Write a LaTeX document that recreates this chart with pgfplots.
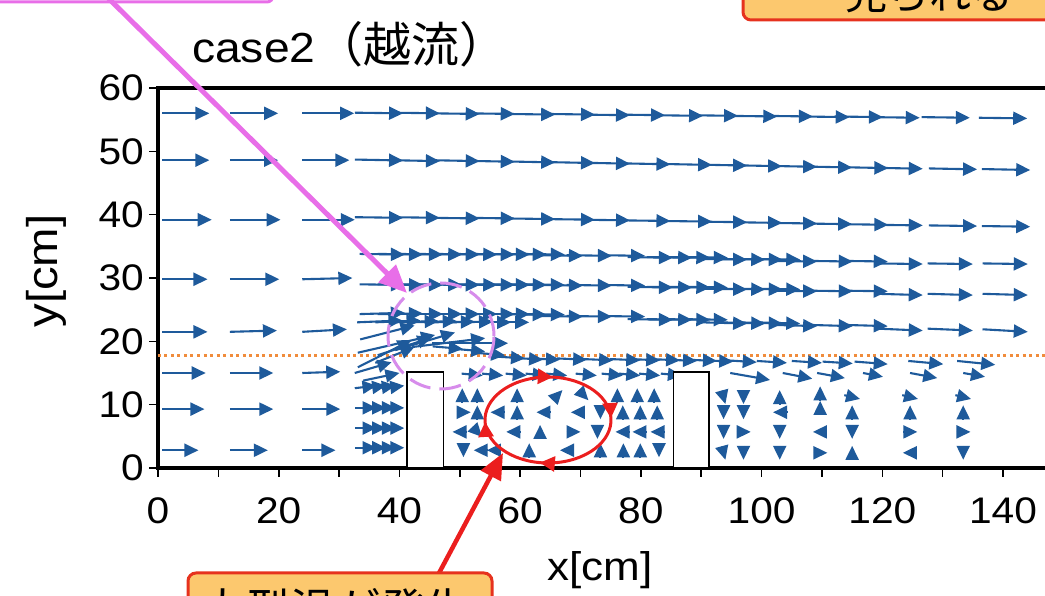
\documentclass[border=0pt]{standalone}
\usepackage{pgfplots}
\pgfplotsset{compat=1.18}
\usepackage{pgfplotstable}
\usepackage{fontspec}
\setmainfont[FakeStretch=1.1]{Liberation Sans}
\newfontfamily\cjk{Noto Sans CJK JP}
\usetikzlibrary{arrows.meta,decorations.markings}
\definecolor{vblue}{RGB}{30,90,155}
\definecolor{dotorange}{RGB}{240,140,60}
\definecolor{pinkc}{RGB}{232,110,232}
\definecolor{pinkd}{RGB}{215,140,235}
\definecolor{redc}{RGB}{235,30,30}
\definecolor{boxfill}{RGB}{252,200,110}
\definecolor{boxline}{RGB}{230,50,30}

% coarse upstream grid
\pgfplotstableread{
x y u v
0.7 56.0 7.8 0
11.9 56.0 8.0 0
23.9 56.0 8.6 0
0.7 48.6 7.8 0
11.9 48.6 8.0 0
23.9 48.6 7.8 0
0.7 39.2 8.2 0
11.9 39.2 8.4 0
23.9 39.2 8.7 0
0.7 29.8 7.5 0
11.9 29.8 8.2 0
23.9 29.8 8.3 0.2
0.7 21.5 7.5 0
11.9 21.5 7.8 0.2
23.9 21.5 7.4 0.4
0.7 15.0 7.2 0
11.9 15.0 7.2 0
23.9 15.0 6.3 0.2
0.7 9.3 7.0 0
11.9 9.3 7.2 0
23.9 9.3 6.3 0
0.7 2.8 6.0 0
11.9 2.8 6.3 0
23.9 2.8 5.5 0
}\coarse

% upper rows R1-R3
\pgfplotstableread{
x y u v
32.6 56.1 8 -0.1
38.7 56.1 8 -0.1
45.3 56.0 8 -0.1
51.1 56.0 8 -0.1
57.8 55.9 8 -0.1
64.4 55.9 8 -0.1
70.2 55.8 8 -0.1
76.0 55.8 8 -0.1
82.3 55.7 8 -0.1
88.1 55.7 8 -0.1
94.6 55.6 8 -0.1
100.5 55.6 8 -0.1
106.6 55.5 8 -0.1
112.1 55.5 8 -0.1
118.2 55.4 8 -0.1
126.5 55.4 8 -0.1
136.0 55.3 8 -0.1
32.6 48.7 8 -0.15
38.7 48.6 8 -0.15
45.3 48.6 8 -0.15
51.1 48.5 8 -0.15
57.8 48.4 8 -0.15
64.4 48.3 8 -0.15
70.2 48.2 8 -0.15
76.9 48.1 8 -0.15
83.8 48.0 8 -0.15
89.6 47.9 8 -0.15
95.4 47.8 8 -0.15
101.2 47.7 8 -0.15
107.0 47.6 8 -0.15
113.0 47.5 8 -0.15
118.7 47.4 8 -0.15
127.7 47.3 8 -0.15
136.5 47.2 8 -0.15
32.6 39.6 8 -0.1
38.7 39.6 8 -0.1
45.3 39.5 8 -0.1
51.1 39.5 8 -0.1
57.8 39.4 8 -0.1
64.4 39.3 8 -0.1
70.2 39.2 8 -0.1
76.9 39.1 8 -0.1
83.8 39.0 8 -0.1
89.6 38.9 8 -0.1
95.4 38.8 8 -0.1
101.2 38.7 8 -0.1
107.0 38.6 8 -0.1
113.0 38.5 8 -0.1
118.7 38.4 8 -0.1
127.7 38.3 8 -0.1
136.5 38.2 8 -0.1
}\upper

% dense rows R4-R6
\pgfplotstableread{
x y u v
33.4 33.8 7.5 -0.1
36.4 33.8 7.5 -0.1
39.7 33.8 7.5 -0.1
42.9 33.8 7.5 -0.1
45.8 33.8 7.5 -0.1
48.7 33.8 7.5 -0.1
51.6 33.8 7.5 -0.1
54.1 33.8 7.5 -0.1
56.9 33.8 7.5 -0.1
59.9 33.8 7.5 -0.1
62.9 33.6 7.5 -0.1
67.7 33.6 7.5 -0.1
73.2 33.6 7.5 -0.1
77.8 33.3 7.5 -0.1
81.0 33.3 7.5 -0.1
84.0 33.3 7.5 -0.1
86.9 33.3 7.5 -0.1
90.1 33.0 7.5 -0.1
93.1 33.0 7.5 -0.1
96.0 33.0 7.5 -0.1
98.9 33.0 7.5 -0.1
101.7 32.7 7.5 -0.1
107.6 32.7 7.5 -0.1
113.4 32.7 7.5 -0.1
119.2 32.3 7.5 -0.1
127.5 32.3 7.5 -0.1
136.6 32.3 7.5 -0.1
33.4 29.0 7.5 -0.1
36.4 29.0 7.5 -0.1
39.7 29.0 7.5 -0.1
42.9 29.0 7.5 -0.1
45.8 29.0 7.5 -0.1
48.7 29.0 7.5 -0.1
51.6 29.0 7.5 -0.1
54.1 29.0 7.5 -0.1
56.9 29.0 7.5 -0.1
59.9 29.0 7.5 -0.1
62.9 28.9 7.5 -0.1
67.7 28.9 7.5 -0.1
73.2 28.9 7.5 -0.1
77.8 28.6 7.5 -0.1
81.0 28.6 7.5 -0.1
84.0 28.6 7.5 -0.1
86.9 28.6 7.5 -0.1
90.1 28.3 7.5 -0.1
93.1 28.3 7.5 -0.1
96.0 28.3 7.5 -0.1
98.9 28.3 7.5 -0.1
101.7 28.0 7.5 -0.1
107.6 28.0 7.5 -0.1
113.4 28.0 7.5 -0.1
119.2 27.5 7.5 -0.2
127.5 27.5 7.5 -0.2
136.6 27.5 7.5 -0.2
33.4 24.3 7.5 0.2
36.4 24.3 7.5 0.1
39.7 24.3 7.5 0
42.9 24.3 7.5 0
45.8 24.3 7.5 0
48.7 24.3 7.5 0
51.6 24.3 7.5 0
54.1 24.3 7.5 0
56.9 24.3 7.5 -0.1
59.9 24.3 7.5 -0.1
62.9 24.0 7.5 -0.1
67.7 24.0 7.5 -0.1
73.2 24.0 7.5 -0.1
77.8 23.5 7.5 -0.1
81.0 23.5 7.5 -0.1
84.0 23.5 7.5 -0.1
86.9 23.5 7.5 -0.1
90.1 23.0 7.5 -0.2
93.1 23.0 7.5 -0.2
96.0 23.0 7.5 -0.2
98.9 23.0 7.5 -0.2
101.7 22.6 7.5 -0.2
107.6 22.6 7.5 -0.2
113.4 22.6 7.5 -0.2
119.2 22.0 7.5 -0.3
127.5 22.0 7.5 -0.3
136.6 21.9 7.5 -0.4
33.0 23.0 7.5 0.3
36.0 23.0 7.5 0.3
39.0 23.0 7.5 0.2
42.0 23.0 7.5 0.2
45.0 23.0 7.5 0.1
48.0 23.0 7.5 0.1
51.0 23.0 7.5 0
54.0 23.0 7.5 0
}\dense

% fan of rising vectors over the first block
\pgfplotstableread{
x y u v
32.6 15.0 6.1 1.7
33.1 15.9 8.9 4.3
36.4 17.8 8.9 2.8
39.3 18.6 9.9 2.8
42.1 19.1 12.1 1.4
45.4 19.7 12.6 0
33.1 18.2 12.8 2.8
33.5 20.3 9.0 2.2
36.0 16.6 6.5 2.5
34.0 13.8 6.0 1.2
}\fan

% row just above the crest line and rows near block tops
\pgfplotstableread{
x y u v
45.5 19.2 5.0 -0.4
49.2 18.8 5.0 -0.4
52.5 18.2 5.0 -0.4
55.8 17.6 5.0 -0.3
58.8 17.4 5.0 -0.3
61.6 17.3 5.0 -0.2
66.1 17.3 5.0 -0.2
70.4 17.2 5.0 -0.2
74.9 17.2 5.0 -0.2
78.2 17.2 5.0 -0.2
81.5 17.2 5.0 -0.2
84.3 17.1 5.0 -0.2
87.6 17.1 5.0 -0.2
90.3 17.0 5.0 -0.2
94.2 17.0 5.0 -0.3
99.2 16.9 5.0 -0.3
105.0 16.9 5.0 -0.3
110.1 16.8 5.0 -0.3
115.4 16.8 5.5 -0.4
124.3 16.9 5.8 -0.5
132.4 16.9 6.3 -0.6
50.3 14.9 3.5 -0.3
53.7 14.9 3.5 -0.3
57.6 14.9 3.5 -0.3
60.9 14.9 3.5 -0.3
64.3 14.9 3.5 -0.3
69.2 14.9 3.5 -0.3
73.5 14.9 3.5 -0.3
76.4 14.9 3.5 -0.3
79.7 14.9 3.5 -0.3
83.3 14.9 3.5 -0.3
94.8 15.0 6.6 -1.1
103.5 15.0 4.9 -0.9
109.2 15.0 4.6 -0.8
116.8 15.0 3.3 -0.6
124.6 15.0 4.5 -0.8
133.4 15.0 3.6 -0.6
}\crest

% upstream of the first block
\pgfplotstableread{
x y u v
32.6 3.2 3.6 0
34.5 3.2 3.3 0
36.0 3.2 3.4 0
37.5 3.2 3.3 0
32.6 6.3 3.6 0
34.5 6.3 3.3 0
36.0 6.3 3.4 0
37.5 6.3 3.3 0
32.6 9.5 3.6 0
34.5 9.5 3.3 0
36.0 9.5 3.4 0
37.5 9.5 3.3 0
32.6 12.6 3.6 0.4
34.5 12.6 3.3 0.4
36.0 12.6 3.4 0.4
37.5 12.6 3.3 0.4
}\upstream

% vortex between the blocks and cells behind the second block
\pgfplotstableread{
x y u v
50.4 10.4 0 2.2
52.9 10.4 0 2.2
59.5 10.4 0 2.2
65.4 10.7 1.6 1.6
69.7 12.3 1.6 -1.6
76.1 10.4 0 2.2
79.4 10.4 0 2.2
82.2 10.4 0 2.2
49.5 8.8 2.3 0
52.9 7.7 0 2.2
57.4 8.8 -2.3 0
59.5 7.7 0 2.2
65.0 8.8 -2.3 0
70.7 8.8 -2.3 0
73.3 9.9 0 -2.2
77.0 7.7 0 2.2
79.9 7.7 0 2.2
82.7 7.7 0 2.2
51.1 5.7 -2.3 0
52.1 6.5 1.6 -1.6
60.0 5.7 -2.3 0
63.3 4.6 0 2.2
67.7 5.7 2.3 0
72.8 6.8 0 -2.2
78.1 5.7 -2.3 0
80.9 5.7 -2.3 0
83.9 5.7 -2.3 0
50.6 3.9 0 -2.2
54.6 2.8 -2.3 0
56.8 2.8 -2.3 0
61.5 1.7 0 2.2
68.9 2.8 -2.3 0
73.3 1.7 0 2.2
77.1 1.7 0 2.2
79.9 1.7 0 2.2
83.0 3.9 0 -2.2
93.4 12.2 0.6 -2.1
93.7 9.9 0 -2.2
93.7 6.8 0 -2.2
93.4 3.4 0.6 -2.1
97.0 12.3 0 -2.2
97.0 9.9 0 -2.2
95.9 5.7 2.3 0
97.0 3.5 0 -2.2
103.0 10.1 0 2.2
104.2 8.8 -2.3 0
103.0 6.8 0 -2.2
103.0 3.5 0 -2.2
109.7 10.7 0 2.2
109.7 8.4 0 2.2
110.8 5.7 -2.3 0
108.6 2.4 2.3 0
113.7 11.5 2.6 -0.6
115.0 7.7 0 2.2
115.0 6.8 0 -2.2
115.0 1.3 0 2.2
123.3 11.5 2.6 -0.6
124.6 7.7 0 2.2
123.5 5.7 2.3 0
125.7 2.4 -2.3 0
132.1 11.5 2.6 -0.6
133.4 7.7 0 2.2
132.3 5.7 2.3 0
133.4 3.5 0 -2.2
}\vortex

\pgfplotsset{vec/.style={quiver={u=\thisrow{u},v=\thisrow{v}},
  draw=vblue, fill=vblue, line width=2.1pt, -{Triangle[length=14pt,width=13pt]}}}

\begin{document}
\begin{tikzpicture}
\path[use as bounding box] (0pt,0pt) rectangle (1045pt,596pt);
\begin{scope}
\clip (0pt,0pt) rectangle (1045pt,596pt);
\begin{axis}[
  anchor=south west, at={(158pt,128pt)},
  scale only axis, width=905.4pt, height=380pt,
  xmin=0, xmax=150, ymin=0, ymax=60,
  xtick={0,20,...,140}, minor xtick={10,30,...,150},
  ytick={0,10,...,60},
  tick pos=left, tick align=outside,
  major tick length=9pt, minor tick length=9pt,
  tick style={black, line width=1.6pt},
  axis line style={line width=3.5pt},
  tick label style={font=\fontsize{37}{40}\selectfont},
  /pgf/number format/assume math mode=true,
  xticklabel style={inner sep=0pt, yshift=-20pt},
  yticklabel style={inner sep=0pt, xshift=-5pt},
]
\addplot[dotorange, line width=2.8pt, dash pattern=on 3pt off 3.5pt] coordinates {(0,17.8) (150,17.8)};
\addplot[vec] table[x=x,y=y] {\coarse};
\addplot[vec] table[x=x,y=y] {\upper};
\addplot[vec] table[x=x,y=y] {\dense};
\addplot[vec] table[x=x,y=y] {\fan};
\addplot[vec] table[x=x,y=y] {\crest};
\addplot[vec] table[x=x,y=y] {\upstream};
\addplot[vec] table[x=x,y=y] {\vortex};
\draw[black, line width=1.8pt, fill=white] (axis cs:41.3,0) rectangle (axis cs:47.3,15.2);
\draw[black, line width=1.8pt, fill=white] (axis cs:85.4,0) rectangle (axis cs:91.3,15.2);
\end{axis}

% title and axis labels
\node[anchor=base west, inner sep=0pt] at (192pt,533pt)
  {\fontsize{42}{48}\selectfont case2\cjk\fontsize{48}{52}\selectfont （越流）};
\node[rotate=90] at (46pt,325pt) {\fontsize{43}{48}\selectfont y[cm]};
\node at (600pt,26pt) {\fontsize{40}{46}\selectfont x[cm]};

% annotations
\draw[pinkd, line width=3pt, dash pattern=on 22pt off 9pt] (441pt,260pt) ellipse [x radius=53pt, y radius=53pt];
\draw[redc, line width=3pt, postaction={decorate}, decoration={markings,
   mark=at position 0.04 with {\arrow{Triangle[length=15pt,width=15pt]}},
   mark=at position 0.31 with {\arrow{Triangle[length=15pt,width=15pt]}},
   mark=at position 0.54 with {\arrow{Triangle[length=15pt,width=15pt]}},
   mark=at position 0.82 with {\arrow{Triangle[length=15pt,width=15pt]}}}]
   (548pt,176pt) ++(200:63pt and 43pt) arc[start angle=200, end angle=-160, x radius=63pt, y radius=43pt];
\draw[pinkc, line width=3pt, fill=white, rounded corners=6pt] (-20pt,594pt) rectangle (273pt,650pt);
\draw[pinkc, line width=5pt, -{Triangle[length=28pt,width=24pt]}] (100pt,606pt) -- (407pt,303pt);
\draw[redc, line width=4.5pt, -{Triangle[length=26pt,width=22pt]}] (438pt,21pt) -- (503pt,143pt);
\draw[boxline, line width=3pt, fill=boxfill, rounded corners=8pt] (188pt,23pt) rectangle (492pt,-60pt);
\node[anchor=base west, inner sep=0pt] at (200pt,-31pt) {\cjk\fontsize{45}{50}\selectfont 大型渦が発生};
\draw[boxline, line width=3pt, fill=boxfill, rounded corners=8pt] (743pt,576pt) rectangle (1090pt,660pt);
\node[anchor=base west, inner sep=0pt] at (845pt,586pt) {\cjk\fontsize{42}{48}\selectfont 見られる};
\end{scope}
\end{tikzpicture}
\end{document}
